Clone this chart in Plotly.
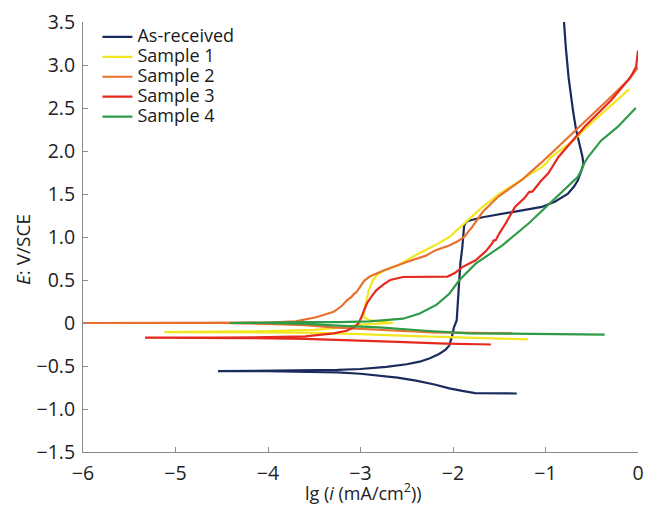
import plotly.graph_objects as go

# Potentiodynamic polarization curves: lg(i) [mA/cm2] vs E [V/SCE]
# Each path runs from the cathodic end, through the corrosion potential, up the anodic branch.

as_received_lgi = [-1.31, -1.6, -1.76, -1.9, -2.04, -2.2, -2.4, -2.6, -2.8, -3.0, -3.25, -3.6, -4.0, -4.54,
                   -4.0, -3.6, -3.25, -3.0, -2.72, -2.5, -2.36, -2.25, -2.15, -2.08, -2.04, -2.01, -1.99,
                   -1.96, -1.95, -1.94, -1.93, -1.92, -1.90, -1.89, -1.88, -1.86, -1.83, -1.68, -1.47, -1.33,
                   -1.18, -1.04, -0.90, -0.76, -0.69, -0.65, -0.61, -0.59, -0.60, -0.64, -0.67, -0.70, -0.72,
                   -0.75, -0.78, -0.80]
as_received_e = [-0.82, -0.82, -0.815, -0.79, -0.76, -0.715, -0.67, -0.635, -0.61, -0.59, -0.575, -0.565, -0.56, -0.56,
                 -0.555, -0.55, -0.545, -0.535, -0.51, -0.48, -0.45, -0.41, -0.36, -0.31, -0.26, -0.15, -0.05,
                 0.03, 0.2, 0.35, 0.48, 0.7, 0.87, 1.02, 1.13, 1.17, 1.19, 1.23, 1.27, 1.29,
                 1.32, 1.35, 1.41, 1.50, 1.59, 1.66, 1.78, 1.85, 1.93, 2.1, 2.25, 2.45, 2.6,
                 2.85, 3.2, 3.5]

sample1_lgi = [-1.19, -1.6, -2.0, -2.5, -3.0, -3.5, -4.0, -4.6, -5.12,
               -4.6, -4.0, -3.5, -3.2, -3.0, -2.8, -2.65, -2.9, -2.97, -2.95, -2.91, -2.87, -2.82,
               -2.75, -2.6, -2.4, -2.2, -2.04, -1.86, -1.68, -1.5, -1.33, -1.15, -1.04, -0.98, -0.95,
               -0.86, -0.7, -0.51, -0.3, -0.095]
sample1_e = [-0.19, -0.18, -0.165, -0.15, -0.13, -0.115, -0.11, -0.105, -0.105,
             -0.10, -0.095, -0.08, -0.05, -0.02, -0.005, 0.0, 0.03, 0.07, 0.2, 0.38, 0.49, 0.56,
             0.61, 0.67, 0.79, 0.9, 1.0, 1.17, 1.35, 1.5, 1.62, 1.74, 1.81, 1.87, 1.92,
             1.99, 2.12, 2.32, 2.52, 2.72]

sample2_lgi = [-1.36, -1.8, -2.2, -2.6, -3.0, -3.3, -3.6, -4.0, -4.5, -6.0,
               -4.5, -4.0, -3.7, -3.47, -3.29, -3.2, -3.15, -3.1, -3.07, -3.05, -3.03, -3.0, -2.96,
               -2.9, -2.75, -2.5, -2.3, -2.18, -2.04, -1.95, -1.88, -1.79, -1.68, -1.51, -1.26,
               -1.04, -0.86, -0.68, -0.33, -0.11, 0.0]
sample2_e = [-0.12, -0.115, -0.11, -0.09, -0.07, -0.05, -0.025, -0.01, 0.0, 0.0,
             0.003, 0.006, 0.02, 0.07, 0.13, 0.2, 0.26, 0.3, 0.34, 0.35, 0.38, 0.43, 0.49,
             0.54, 0.61, 0.71, 0.78, 0.85, 0.9, 0.95, 1.0, 1.12, 1.29, 1.47, 1.66,
             1.87, 2.05, 2.24, 2.59, 2.82, 2.97]

sample3_lgi = [-1.59, -2.08, -2.6, -3.15, -3.6, -4.2, -5.33,
               -4.5, -4.0, -3.6, -3.29, -3.15, -3.07, -3.02, -2.99, -2.95, -2.93, -2.88, -2.83, -2.75,
               -2.68, -2.54, -2.33, -2.06, -1.98, -1.90, -1.755, -1.65, -1.58, -1.56, -1.54, -1.5,
               -1.43, -1.33, -1.23, -1.18, -1.14, -1.05, -0.97, -0.86, -0.58, -0.29, -0.08, -0.02, 0.0]
sample3_e = [-0.25, -0.24, -0.22, -0.20, -0.185, -0.175, -0.17,
             -0.17, -0.165, -0.155, -0.12, -0.09, -0.05, 0.0, 0.07, 0.17, 0.23, 0.31, 0.38, 0.45,
             0.50, 0.535, 0.54, 0.54, 0.58, 0.65, 0.73, 0.83, 0.92, 0.96, 0.96, 1.04,
             1.16, 1.35, 1.45, 1.52, 1.53, 1.65, 1.74, 1.93, 2.28, 2.59, 2.86, 2.98, 3.17]

sample4_lgi = [-0.36, -1.0, -1.83, -2.3, -2.54, -2.8, -3.25, -3.6, -4.0, -4.41,
               -4.0, -3.6, -3.25, -2.9, -2.7, -2.54, -2.36, -2.18, -2.04, -1.93, -1.755, -1.47,
               -1.18, -0.93, -0.76, -0.65, -0.61, -0.58, -0.54, -0.40, -0.22, -0.024]
sample4_e = [-0.135, -0.13, -0.12, -0.09, -0.07, -0.05, -0.03, -0.01, 0.0, 0.0,
             0.005, 0.01, 0.01, 0.02, 0.035, 0.05, 0.11, 0.21, 0.34, 0.50, 0.69, 0.90,
             1.16, 1.41, 1.58, 1.70, 1.78, 1.86, 1.93, 2.12, 2.28, 2.50]

series_names = ["As-received", "Sample 1", "Sample 2", "Sample 3", "Sample 4"]
series_colors = ["#1b2a5c", "#f2e620", "#e8702e", "#e5291f", "#2e9b47"]

x_ticks = [-6, -5, -4, -3, -2, -1, 0]
x_tick_text = ["\u22126", "\u22125", "\u22124", "\u22123", "\u22122", "\u22121", "0"]
y_ticks = [-1.5, -1.0, -0.5, 0, 0.5, 1.0, 1.5, 2.0, 2.5, 3.0, 3.5]
y_tick_text = ["\u22121.5", "\u22121.0", "\u22120.5", "0", "0.5", "1.0", "1.5", "2.0", "2.5", "3.0", "3.5"]

xs = [as_received_lgi, sample1_lgi, sample2_lgi, sample3_lgi, sample4_lgi]
ys = [as_received_e, sample1_e, sample2_e, sample3_e, sample4_e]

FONT = "Open Sans, Noto Sans, sans-serif"
TEXT_COLOR = "#222222"

fig = go.Figure()
for name, color, x, y in zip(series_names, series_colors, xs, ys):
    fig.add_trace(go.Scatter(
        x=x, y=y, mode="lines", name=f"<span style='font-size:18px'>{name}</span>",
        line=dict(color=color, width=2.2),
    ))

axis_common = dict(
    showgrid=False, zeroline=False, showline=True, linecolor="#8a8a8a", linewidth=1,
    ticks="inside", ticklen=5, tickwidth=1, tickcolor="#8a8a8a",
    tickfont=dict(family=FONT, size=19.5, color=TEXT_COLOR),
)

fig.update_layout(
    width=652, height=506,
    margin=dict(l=83, r=8, t=22, b=54),
    paper_bgcolor="white", plot_bgcolor="white",
    xaxis=dict(range=[-6, 0], tickvals=x_ticks, ticktext=x_tick_text, ticklabelstandoff=4, **axis_common),
    yaxis=dict(range=[-1.5, 3.5], tickvals=y_ticks, ticktext=y_tick_text, ticklabelstandoff=3, **axis_common),
    showlegend=True,
    legend=dict(
        x=0.026, y=1.0, xanchor="left", yanchor="top",
        font=dict(family=FONT, size=13, color="#1a1a1a"),
        bgcolor="rgba(0,0,0,0)", borderwidth=0, tracegroupgap=0, itemwidth=30,
    ),
    annotations=[
        dict(text="<i>E</i>: V/SCE", textangle=-90, xref="paper", yref="paper",
             x=-0.108, y=0.47, xanchor="center", yanchor="middle", showarrow=False,
             font=dict(family=FONT, size=19, color=TEXT_COLOR)),
        dict(text="lg (<i>i</i> (mA/cm<sup>2</sup>))", xref="paper", yref="paper",
             x=0.505, y=-0.094, xanchor="center", yanchor="middle", showarrow=False,
             font=dict(family=FONT, size=18, color=TEXT_COLOR)),
    ],
)

fig.write_html("out.html")
